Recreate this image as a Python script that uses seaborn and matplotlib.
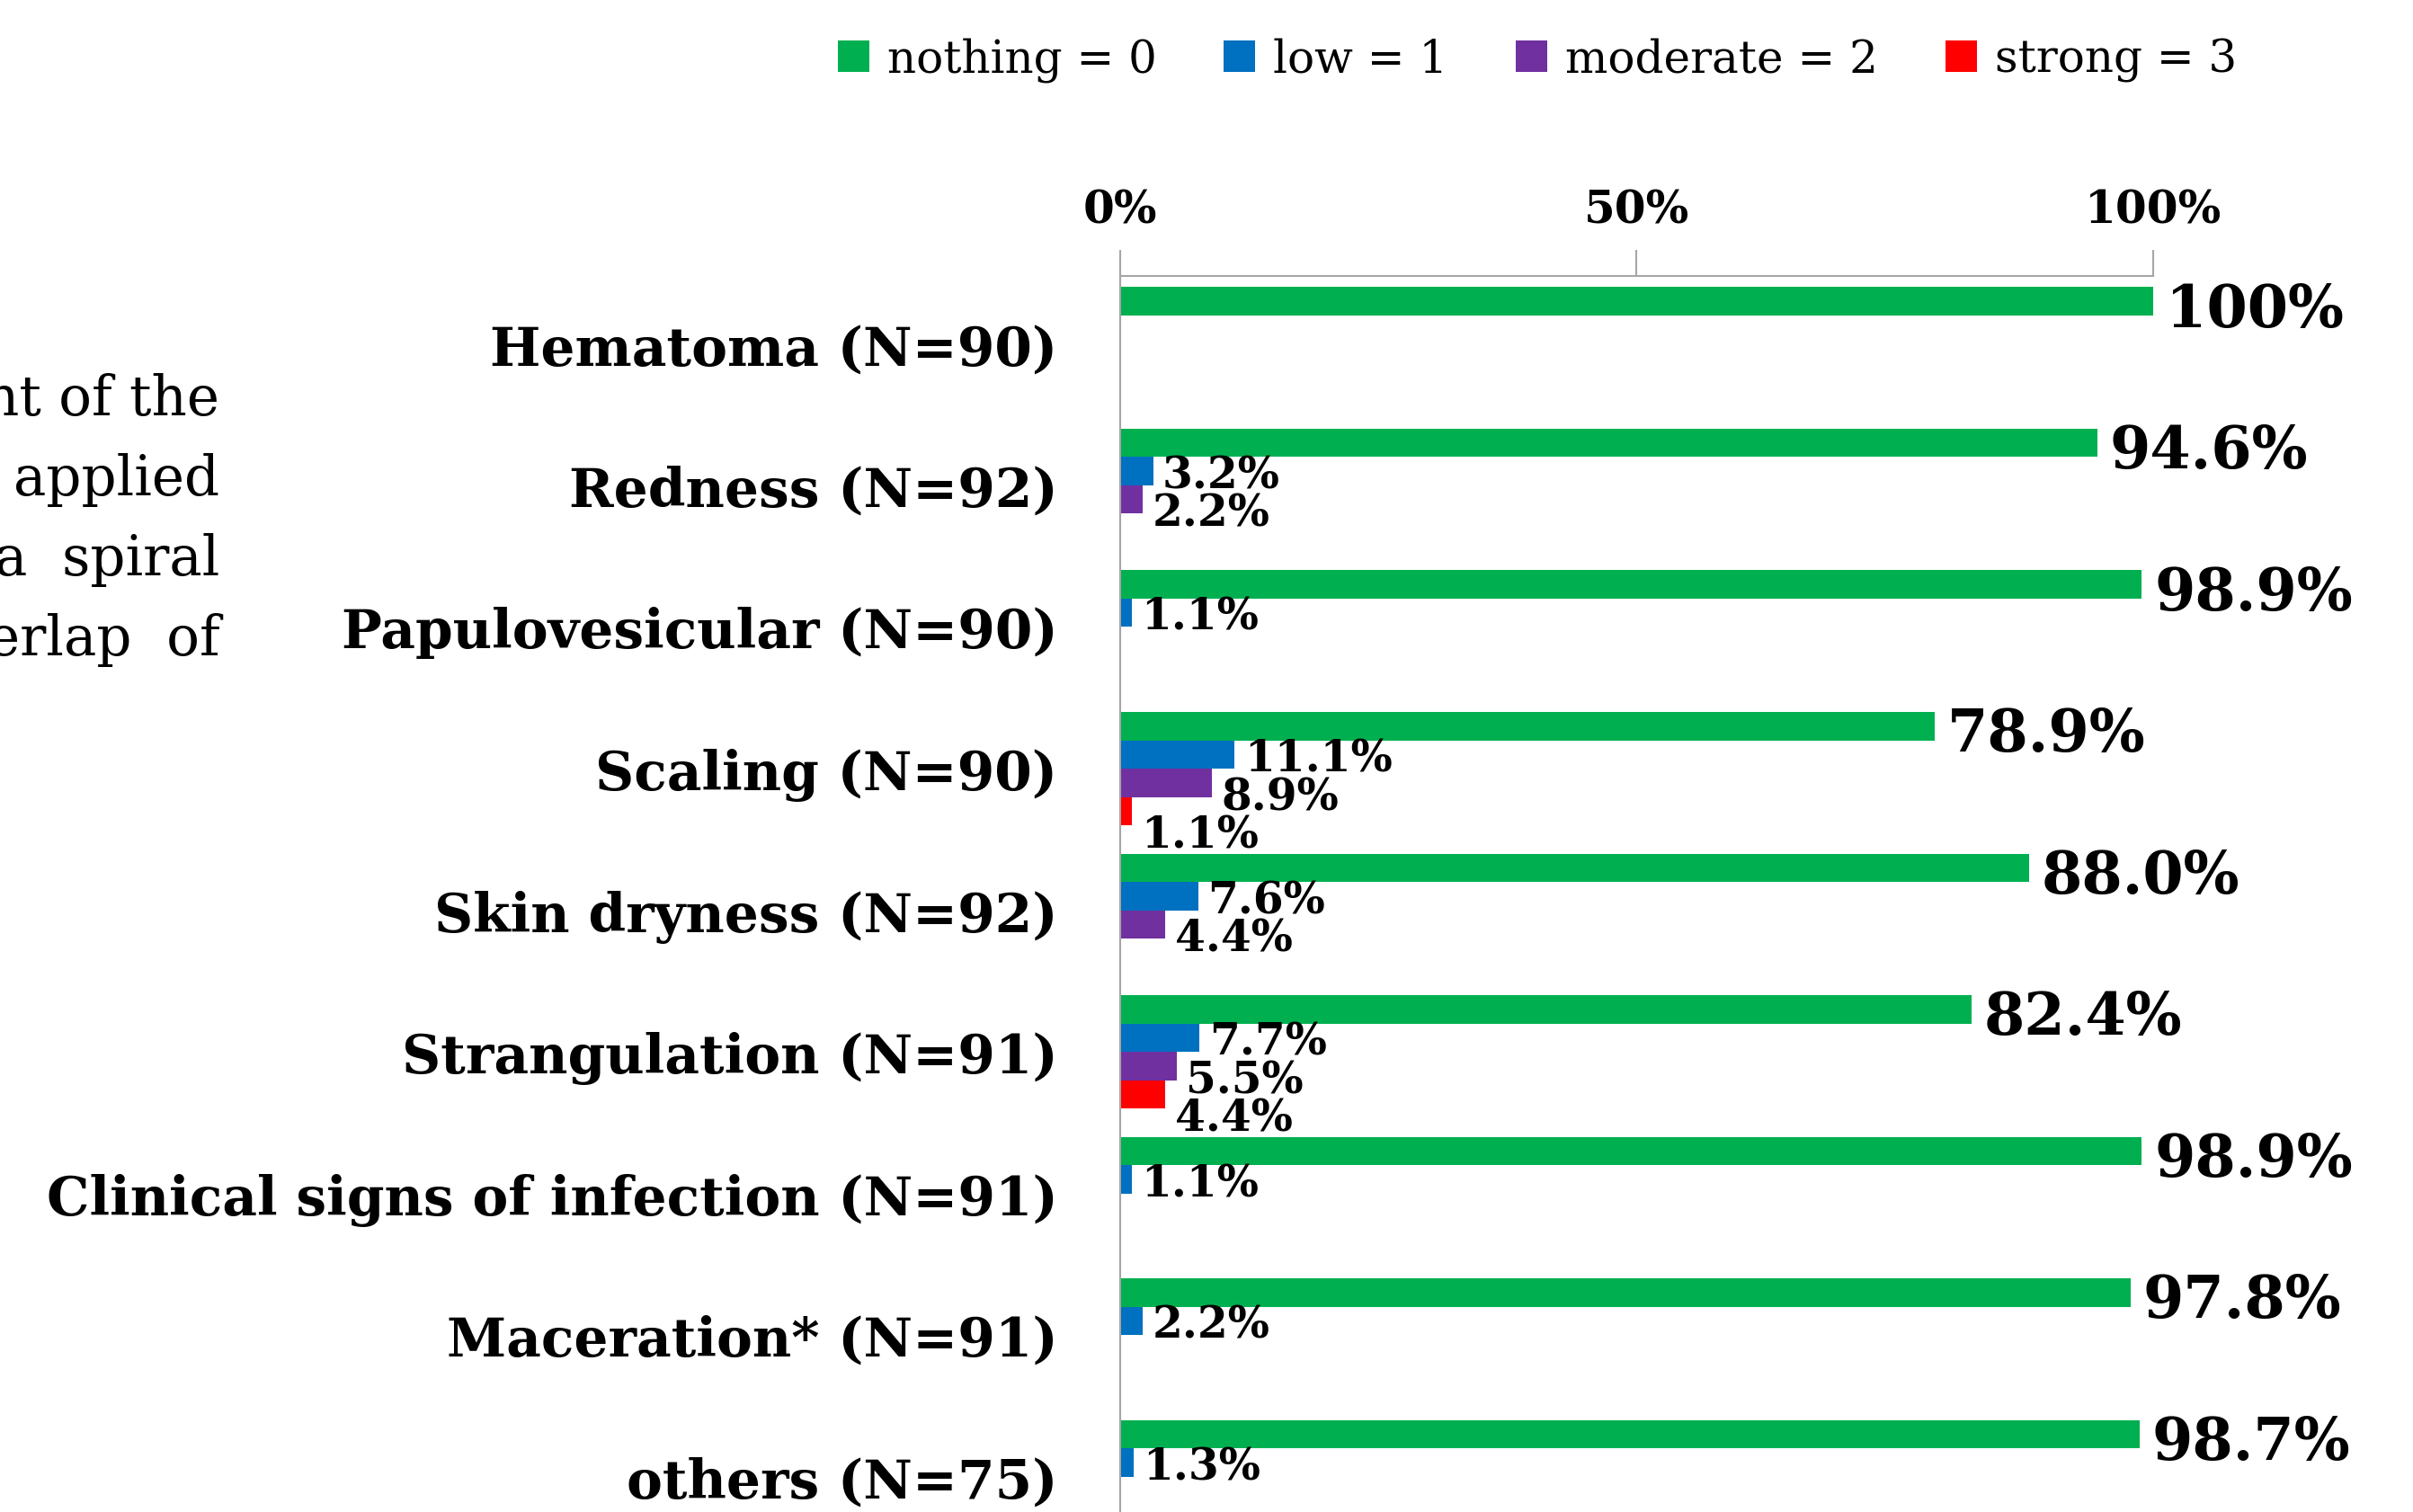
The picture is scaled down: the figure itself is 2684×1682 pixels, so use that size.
import numpy as np
import pandas as pd
import matplotlib
matplotlib.use("Agg")
import matplotlib.pyplot as plt
import seaborn as sns

categories = ["Hematoma (N=90)", "Redness (N=92)", "Papulovesicular (N=90)",
              "Scaling (N=90)", "Skin dryness (N=92)", "Strangulation (N=91)",
              "Clinical signs of infection (N=91)", "Maceration* (N=91)",
              "others (N=75)"]
levels = ["nothing = 0", "low = 1", "moderate = 2", "strong = 3"]

nothing = [100, 94.6, 98.9, 78.9, 88.0, 82.4, 98.9, 97.8, 98.7]
low = [np.nan, 3.2, 1.1, 11.1, 7.6, 7.7, 1.1, 2.2, 1.3]
moderate = [np.nan, 2.2, np.nan, 8.9, 4.4, 5.5, np.nan, np.nan, np.nan]
strong = [np.nan, np.nan, np.nan, 1.1, np.nan, 4.4, np.nan, np.nan, np.nan]

colors = ["#00B050", "#0070C0", "#7030A0", "#FF0000"]
side_text = ["nt of the", "applied", "a  spiral", "erlap  of"]

sns.set_style("white")
plt.rcParams["font.family"] = ["DejaVu Serif"]
plt.rcParams["text.color"] = "black"
plt.rcParams["xtick.color"] = "black"
plt.rcParams["ytick.color"] = "black"

rows = []
for lev, vals in zip(levels, [nothing, low, moderate, strong]):
    for cat, v in zip(categories, vals):
        rows.append({"category": cat, "level": lev, "value": v})
df = pd.DataFrame(rows)

fig = plt.figure(figsize=(26.84, 16.83), dpi=100)
ax = fig.add_axes([0.4642, 0.0, 0.8923 - 0.4642, 0.817])

sns.barplot(data=df, x="value", y="category", hue="level", order=categories,
            hue_order=levels, palette=colors, saturation=1, orient="h",
            width=0.8, dodge=True, linewidth=0, ax=ax, legend=True)

ax.set_xlim(0, 100)
ax.set_ylim(8.25, -0.479)
ax.set_xlabel("")
ax.set_ylabel("")

# axis at the top
ax.xaxis.tick_top()
ax.set_xticks([0, 50, 100])
ax.set_xticklabels(["0%", "50%", "100%"], fontsize=36, fontweight="bold")
ax.tick_params(axis="x", length=21, width=1.5, color="#a6a6a6", pad=14,
               direction="out", labelcolor="black")
ax.tick_params(axis="y", length=0, pad=50, labelcolor="black")
for lbl in ax.get_yticklabels():
    lbl.set_fontsize(43)
    lbl.set_fontweight("bold")
for side in ["bottom", "right"]:
    ax.spines[side].set_visible(False)
for side in ["top", "left"]:
    ax.spines[side].set_color("#a6a6a6")
    ax.spines[side].set_linewidth(1.5)

# value labels
dy = [0.06, 0.03, 0.1, 0.17]
for i, cont in enumerate(ax.containers):
    for bar in cont:
        w = bar.get_width()
        if not np.isfinite(w) or w <= 0:
            continue
        yc = bar.get_y() + bar.get_height() / 2 + dy[i]
        txt = "100%" if w == 100 else f"{w:.1f}%"
        if i == 0:
            ax.text(w + 1.2, yc, txt, fontsize=47, fontweight="bold",
                    va="center", ha="left", clip_on=False)
        else:
            ax.text(w + 0.9, yc, txt, fontsize=35, fontweight="bold",
                    va="center", ha="left", clip_on=False)

handles, labels = ax.get_legend_handles_labels()
ax.get_legend().remove()
fig.legend(handles, labels, loc="center", bbox_to_anchor=(0.637, 0.96),
           ncol=4, frameon=False, fontsize=36, handlelength=0.7,
           handleheight=0.7, handletextpad=0.4, columnspacing=1.5)

# partial slide text cut by the left edge, as in the source image
for k, s in enumerate(side_text):
    fig.text(0.091, 1 - (260 + 52 * k) * 1.712 / 1683, s, fontsize=44,
             ha="right", va="center")

fig.savefig("out.png", dpi=100)
